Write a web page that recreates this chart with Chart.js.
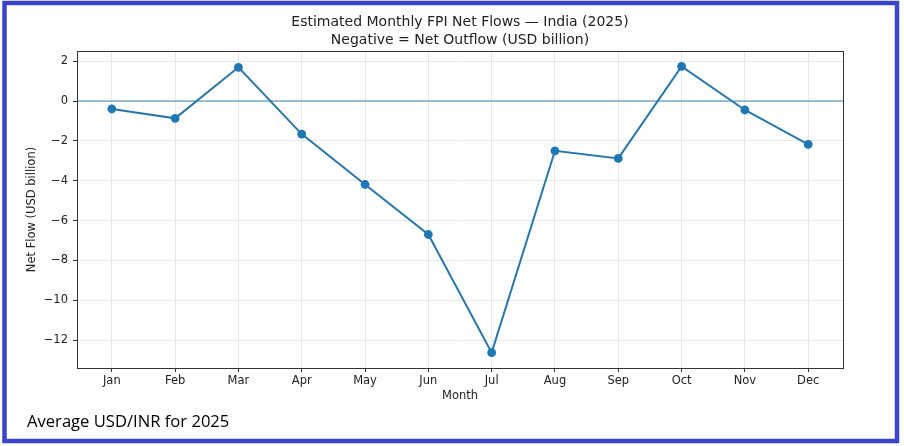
<!DOCTYPE html>
<html>
<head>
<meta charset="utf-8">
<script src="https://cdn.jsdelivr.net/npm/chart.js@4/dist/chart.umd.min.js"></script>
<style>
  html, body { margin: 0; padding: 0; background: #ffffff; }
  #wrap { position: relative; width: 904px; height: 446px; }
  #c { position: absolute; left: 0; top: 0; }
  #note { position: absolute; left: 27px; top: 410px; font-family: "Open Sans", sans-serif; font-size: 16.6px; color: #000; white-space: nowrap; line-height: 22px; }
</style>
</head>
<body>
<div id="wrap">
  <canvas id="c" width="904" height="446"></canvas>
  <div id="note">Average USD/INR for 2025</div>
</div>
<script>
const months = ["Jan","Feb","Mar","Apr","May","Jun","Jul","Aug","Sep","Oct","Nov","Dec"];
const netFlows = [-0.40, -0.87, 1.69, -1.66, -4.19, -6.70, -12.63, -2.50, -2.88, 1.74, -0.45, -2.18];
const yTicks = [2, 0, -2, -4, -6, -8, -10, -12];
const zeroLevel = 0;
const titleLines = ["Estimated Monthly FPI Net Flows \u2014 India (2025)", "Negative = Net Outflow (USD billion)"];

const X_MIN = -0.55, X_MAX = 11.55;
const pts = netFlows.map((v, i) => ({ x: i, y: v }));
const zeroPts = [{ x: X_MIN, y: zeroLevel }, { x: X_MAX, y: zeroLevel }];
const font = "'DejaVu Sans', sans-serif";

const framePlugin = {
  id: 'frame',
  beforeDraw(chart) {
    const ctx = chart.ctx;
    ctx.save();
    ctx.fillStyle = '#ffffff';
    ctx.fillRect(0, 0, chart.width, chart.height);
    ctx.restore();
  },
  afterDraw(chart) {
    const ctx = chart.ctx;
    const a = chart.chartArea;
    ctx.save();
    ctx.strokeStyle = '#333333';
    ctx.lineWidth = 1;
    ctx.strokeRect(Math.round(a.left) + 0.5, Math.round(a.top) + 0.5, Math.round(a.right - a.left), Math.round(a.bottom - a.top));
    ctx.strokeStyle = '#3b45c9';
    ctx.lineWidth = 4.5;
    ctx.strokeRect(4.5, 3, 892.5, 438);
    ctx.restore();
  }
};

new Chart(document.getElementById('c'), {
  type: 'line',
  data: {
    datasets: [{
      data: pts,
      borderColor: '#2a76a8',
      backgroundColor: '#1f77b4',
      borderWidth: 2,
      pointRadius: 4.4,
      pointHoverRadius: 4.4,
      pointBackgroundColor: '#1f77b4',
      pointBorderColor: '#1f77b4',
      pointBorderWidth: 0,
      tension: 0,
      fill: false,
      order: 1
    }, {
      data: zeroPts,
      borderColor: '#3f86b2',
      borderWidth: 1,
      pointRadius: 0,
      pointHoverRadius: 0,
      fill: false,
      order: 2
    }]
  },
  options: {
    responsive: false,
    animation: false,
    devicePixelRatio: 1,
    layout: { padding: { top: 14, left: 10, right: 61, bottom: 38 } },
    plugins: {
      legend: { display: false },
      tooltip: { enabled: false },
      title: { display: false }
    },
    scales: {
      x: {
        type: 'linear',
        min: X_MIN,
        max: X_MAX,
        afterFit(s) { s.height = 40; },
        afterBuildTicks(s) { s.ticks = months.map((m, i) => ({ value: i })); },
        ticks: {
          autoSkip: false,
          maxRotation: 0,
          padding: 2,
          color: '#222',
          font: { family: font, size: 11.5 },
          callback: (v) => months[v]
        },
        grid: { color: '#e8e8e8', lineWidth: 1, tickColor: '#333', tickLength: 4, drawTicks: true },
        border: { display: true, color: '#333', width: 1 },
        title: {
          display: true, text: 'Month', color: '#222',
          font: { family: font, size: 11.5, lineHeight: 1.2 },
          padding: { top: 0, bottom: 5 }
        }
      },
      xTop: {
        type: 'linear',
        position: 'top',
        min: X_MIN,
        max: X_MAX,
        afterFit(s) { s.height = 37; },
        ticks: { display: false },
        grid: { display: false, drawTicks: false },
        border: { display: false },
        title: {
          display: true, text: titleLines, color: '#222',
          font: { family: font, size: 14, lineHeight: 1.24 },
          padding: { top: 0, bottom: 0 }
        }
      },
      y: {
        type: 'linear',
        min: -13.4,
        max: 2.51,
        afterFit(s) { s.width = 67; },
        afterBuildTicks(s) { s.ticks = yTicks.map(v => ({ value: v })); },
        ticks: {
          padding: 5,
          color: '#222',
          font: { family: font, size: 11.5 },
          callback: (v) => (v < 0 ? '\u2212' + Math.abs(v) : String(v))
        },
        grid: { color: '#e8e8e8', lineWidth: 1, tickColor: '#333', tickLength: 4, drawTicks: true },
        border: { display: true, color: '#333', width: 1 },
        title: {
          display: true, text: 'Net Flow (USD billion)', color: '#222',
          font: { family: font, size: 11.5, lineHeight: 1.2 },
          padding: { top: 15, bottom: 0 }
        }
      }
    }
  },
  plugins: [framePlugin]
});
</script>
</body>
</html>
